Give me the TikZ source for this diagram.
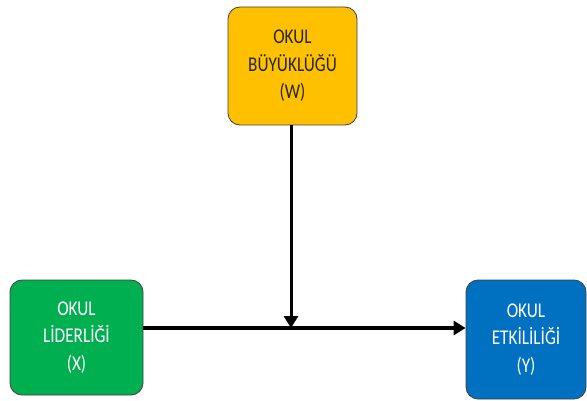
\documentclass[tikz,border=0pt]{standalone}
\usepackage{fontspec}
\setmainfont{Carlito}[FakeStretch=0.82]
\usetikzlibrary{arrows.meta}
\definecolor{cyellow}{HTML}{FFC000}
\definecolor{cgreen}{HTML}{00B050}
\definecolor{cblue}{HTML}{0070C0}
\definecolor{cborder}{HTML}{404040}
\begin{document}
\begin{tikzpicture}[x=1pt,y=1pt,
  box/.style={draw=cborder, line width=0.8pt, rounded corners=12pt, align=center,
    font=\fontsize{21}{27.5}\selectfont, inner sep=0pt},
  conn/.style={-{Triangle[length=12pt,width=14pt]}, line width=3.8pt}]
\useasboundingbox (0,0) rectangle (587,-401);
\node[box, fill=cyellow, text=black!85, minimum width=129pt, minimum height=118pt] (w) at (292.5,-66) {OKUL\\BÜYÜKLÜĞÜ\\(W)};
\node[box, fill=cgreen, text=white, minimum width=133pt, minimum height=115pt] (x) at (76.5,-337.5) {OKUL\\LİDERLİĞİ\\(X)};
\node[box, fill=cblue, text=white, minimum width=120pt, minimum height=119pt] (y) at (526,-339.5) {OKUL\\ETKİLİLİĞİ\\(Y)};
\coordinate (j) at (291,-328);
\draw[conn] (j -| x.east) -- (j -| y.west);
\draw[conn, line width=3pt] (w.south -| j) -- (j);
\end{tikzpicture}
\end{document}
